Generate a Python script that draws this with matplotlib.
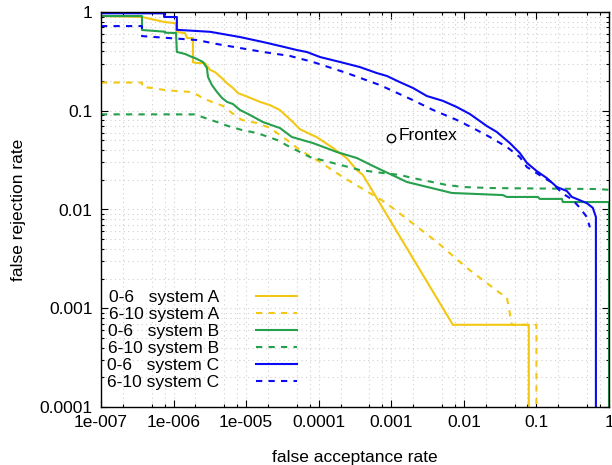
import matplotlib.pyplot as plt
from matplotlib.ticker import FixedLocator, LogLocator, NullFormatter

plt.rcParams['font.family'] = ['Liberation Sans', 'DejaVu Sans']

# system A, age 0-6
far_a06 = [1e-7, 3.67e-7, 7.6e-7, 1.08e-6, 1.08e-6, 1.44e-6, 1.53e-6, 1.85e-6, 1.85e-6, 2.1e-6,
           2.7e-6, 3.2e-6, 3.7e-6, 4.6e-6, 5.4e-6, 6.6e-6, 7.7e-6, 1.06e-5, 1.55e-5, 2.13e-5,
           2.9e-5, 4.4e-5, 5.5e-5, 9.4e-5, 1.57e-4, 2.44e-4, 3.36e-4, 4.06e-4, 7.05e-3, 0.0785, 0.0785]
frr_a06 = [0.91, 0.89, 0.79, 0.77, 0.63, 0.61, 0.545, 0.545, 0.31, 0.304,
           0.304, 0.259, 0.247, 0.215, 0.191, 0.170, 0.151, 0.138, 0.123, 0.114,
           0.102, 0.077, 0.065, 0.054, 0.042, 0.033, 0.025, 0.0224, 6.8e-4, 6.8e-4, 1e-5]

# system A, age 6-10
far_a610 = [1e-7, 3.67e-7, 3.67e-7, 5.04e-7, 7.6e-7, 1.15e-6, 1.68e-6, 2.17e-6, 2.46e-6, 3.38e-6,
            4.79e-6, 6.37e-6, 8.75e-6, 1.41e-5, 2.13e-5, 3.65e-5, 5.51e-5, 1.04e-4, 2.15e-4, 8.16e-4,
            4.25e-3, 0.011, 0.0313, 0.0391, 0.0458, 0.1, 0.1]
frr_a610 = [0.193, 0.193, 0.174, 0.170, 0.162, 0.158, 0.155, 0.144, 0.135, 0.123,
            0.112, 0.0949, 0.0806, 0.0751, 0.0669, 0.0506, 0.040, 0.0303, 0.0213, 0.0119,
            4.69e-3, 2.56e-3, 1.43e-3, 1.30e-3, 6.8e-4, 6.8e-4, 1e-5]

# system B, age 0-6
far_b06 = [1e-7, 3.67e-7, 3.67e-7, 7.6e-7, 7.6e-7, 1.08e-6, 1.11e-6, 1.44e-6, 1.79e-6, 1.97e-6,
           2.54e-6, 2.88e-6, 2.98e-6, 3.38e-6, 3.96e-6, 4.64e-6, 5.44e-6, 6.58e-6, 8.2e-6, 1.13e-5,
           1.70e-5, 2.66e-5, 2.92e-5, 4.27e-5, 8.3e-5, 1.78e-4, 3.36e-4, 5.58e-4, 9.57e-4, 1.64e-3,
           6.83e-3, 0.0345, 0.0391, 0.105, 0.111, 0.224, 0.231, 1.0, 1.0]
frr_b06 = [0.91, 0.91, 0.657, 0.632, 0.617, 0.613, 0.394, 0.376, 0.350, 0.342,
           0.312, 0.271, 0.220, 0.182, 0.155, 0.135, 0.123, 0.117, 0.102, 0.0906,
           0.0769, 0.0684, 0.0669, 0.0542, 0.0471, 0.0382, 0.0332, 0.0276, 0.0229, 0.0190,
           0.0147, 0.0140, 0.0134, 0.0134, 0.0128, 0.0128, 0.0119, 0.0119, 1e-5]

# system B, age 6-10
far_b610 = [1e-7, 1.97e-6, 2.71e-6, 3.96e-6, 5.61e-6, 8.75e-6, 1.41e-5, 2.66e-5, 4.0e-5, 7.56e-5,
            1.78e-4, 3.69e-4, 7.66e-4, 1.31e-3, 1.99e-3, 5.83e-3, 9.7e-3, 0.0228, 0.747, 1.0]
frr_b610 = [0.092, 0.0919, 0.0845, 0.0769, 0.0701, 0.0638, 0.0595, 0.0506, 0.0430, 0.0340,
            0.0289, 0.0251, 0.0234, 0.0224, 0.0208, 0.0177, 0.0169, 0.0165, 0.0161, 0.0158]

# system C, age 0-6
far_c06 = [1e-7, 7.4e-7, 7.4e-7, 1.11e-6, 1.11e-6, 3.2e-6, 8.2e-6, 1.7e-5, 2.92e-5, 5.0e-5,
           6.9e-5, 1.04e-4, 1.96e-4, 3.69e-4, 6.3e-4, 8.7e-4, 1.31e-3, 1.99e-3, 3.09e-3, 5.14e-3,
           8.0e-3, 0.0121, 0.0207, 0.0285, 0.043, 0.059, 0.074, 0.101, 0.139, 0.191,
           0.262, 0.308, 0.494, 0.598, 0.66, 0.66]
frr_c06 = [0.97, 0.97, 0.89, 0.89, 0.66, 0.63, 0.558, 0.497, 0.453, 0.412,
           0.393, 0.350, 0.312, 0.277, 0.241, 0.225, 0.195, 0.170, 0.141, 0.126,
           0.109, 0.0927, 0.0701, 0.0609, 0.0471, 0.0373, 0.0296, 0.0245, 0.0208, 0.0169,
           0.0154, 0.0134, 0.0116, 0.0104, 0.0084, 1e-5]

# system C, age 6-10
far_c610 = [1e-7, 3.67e-7, 3.67e-7, 2.1e-6, 3.96e-6, 8.2e-6, 1.7e-5, 4.0e-5, 8.3e-5, 2.44e-4,
            6.97e-4, 1.99e-3, 3.74e-3, 8.0e-3, 0.0133, 0.0228, 0.039, 0.059, 0.074, 0.111,
            0.168, 0.224, 0.317, 0.396, 0.494, 0.545]
frr_c610 = [0.72, 0.72, 0.57, 0.520, 0.474, 0.432, 0.394, 0.359, 0.312, 0.241,
            0.182, 0.128, 0.102, 0.0806, 0.0669, 0.0542, 0.043, 0.034, 0.0269, 0.0223,
            0.0185, 0.0147, 0.0125, 0.0104, 0.0084, 0.0066]

frontex_far = 0.001
frontex_frr = 0.053

xticks = [1e-7, 1e-6, 1e-5, 1e-4, 1e-3, 1e-2, 1e-1, 1]
xticklabels = ['1e-007', '1e-006', '1e-005', '0.0001', '0.001', '0.01', '0.1', '1']
yticks = [1e-4, 1e-3, 1e-2, 1e-1, 1]
yticklabels = ['0.0001', '0.001', '0.01', '0.1', '1']

yellow = '#F2C814'
green = '#26A04C'
blue = '#0A0AF5'

fig = plt.figure(figsize=(6.12, 4.65), dpi=100)
ax = fig.add_axes([101/612, 1-407/465, 508/612, 395/465])

lw = 1.5
ax.plot(far_a06, frr_a06, color=yellow, lw=lw, label='0-6   system A')
ax.plot(far_a610, frr_a610, color=yellow, lw=lw, ls=(0, (3, 3)), label='6-10 system A')
ax.plot(far_b06, frr_b06, color=green, lw=lw, label='0-6   system B')
ax.plot(far_b610, frr_b610, color=green, lw=lw, ls=(0, (3, 3)), label='6-10 system B')
ax.plot(far_c06, frr_c06, color=blue, lw=lw, label='0-6   system C')
ax.plot(far_c610, frr_c610, color=blue, lw=lw, ls=(0, (3, 3)), label='6-10 system C')

ax.plot(frontex_far, frontex_frr, 'o', mfc='none', mec='black', ms=6, mew=1)
ax.annotate('Frontex', (frontex_far, frontex_frr), xytext=(5, 2), textcoords='offset points',
            va='center', ha='left', fontsize=12.5)

ax.set_xscale('log')
ax.set_yscale('log')
ax.set_xlim(1e-7, 1)
ax.set_ylim(1e-4, 1)

ax.xaxis.set_major_locator(FixedLocator(xticks))
ax.set_xticklabels(xticklabels)
ax.yaxis.set_major_locator(FixedLocator(yticks))
ax.set_yticklabels(yticklabels)
ax.xaxis.set_minor_locator(LogLocator(base=10, subs=[2, 5, 7.5], numticks=20))
ax.yaxis.set_minor_locator(LogLocator(base=10, subs=range(2, 10), numticks=20))
ax.xaxis.set_minor_formatter(NullFormatter())
ax.yaxis.set_minor_formatter(NullFormatter())

ax.tick_params(which='both', direction='in', top=True, right=True, labelsize=12.5, width=0.8)
ax.tick_params(which='major', length=5, pad=6)
ax.tick_params(which='minor', length=2.5)

ax.grid(True, which='both', color='#d0d0d0', ls=(0, (1, 3)), lw=0.8)
for s in ax.spines.values():
    s.set_linewidth(1.0)

ax.set_xlabel('false acceptance rate', fontsize=12.5, labelpad=14)
ax.set_ylabel('false rejection rate', fontsize=12.5, labelpad=10)

ax.legend(loc='lower left', bbox_to_anchor=(0.012, 0.044), frameon=False, markerfirst=False,
          handlelength=2.4, handletextpad=2.1, labelspacing=0.1, borderpad=0, borderaxespad=0,
          fontsize=12.5)

fig.savefig('out.png', dpi=100)
